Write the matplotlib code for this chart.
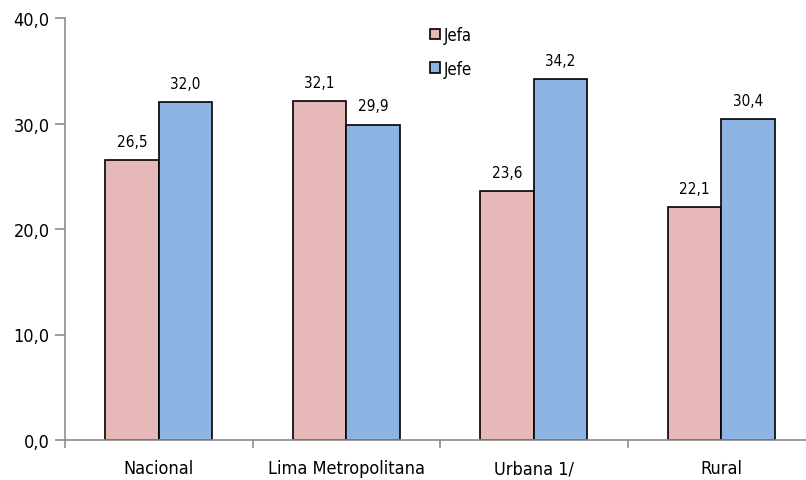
import matplotlib
matplotlib.use("Agg")
import matplotlib.pyplot as plt
import numpy as np
from matplotlib import font_manager

categories = ["Nacional", "Lima Metropolitana", "Urbana 1/", "Rural"]
jefa = [26.5, 32.1, 23.6, 22.1]
jefe = [32.0, 29.9, 34.2, 30.4]
yticks = [0, 10, 20, 30, 40]

# the original uses Arial Narrow, so take a narrow face when one is installed
narrow = [f for f in font_manager.fontManager.ttflist
          if "narrow" in f.name.lower() or "condensed" in f.name.lower()
          or "condensed" in str(f.stretch).lower()]
if narrow:
    plt.rcParams["font.family"] = [narrow[0].name, "DejaVu Sans"]
    plt.rcParams["font.stretch"] = narrow[0].stretch
    scale = 1.0
else:
    plt.rcParams["font.family"] = ["Liberation Sans", "DejaVu Sans"]
    scale = 0.9


def fmt(v):
    return f"{v:.1f}".replace(".", ",")


fig = plt.figure(figsize=(8.06, 4.81), dpi=100)
ax = fig.add_axes([65 / 806, 40 / 481, 750 / 806, 422 / 481])

x = np.arange(len(categories))
w = 0.285
b1 = ax.bar(x - w / 2, jefa, w, color="#E6B9B8", edgecolor="black", linewidth=1.2, label="Jefa")
b2 = ax.bar(x + w / 2, jefe, w, color="#8EB4E3", edgecolor="black", linewidth=1.2, label="Jefe")

for bars, vals in ((b1, jefa), (b2, jefe)):
    for bar, v in zip(bars, vals):
        ax.annotate(fmt(v), (bar.get_x() + bar.get_width() / 2, v), xytext=(0, 8),
                    textcoords="offset points", ha="center", va="bottom", fontsize=11 * scale)

ax.set_xlim(-0.5, len(categories) - 0.5)
ax.set_ylim(0, 40)
ax.set_yticks(yticks)
ax.set_yticklabels([fmt(v) for v in yticks], fontsize=13 * scale)
ax.set_xticks(np.arange(-0.5, len(categories), 1.0))
ax.set_xticklabels([])
ax.set_xticks(x, minor=True)
ax.set_xticklabels(categories, minor=True, fontsize=13 * scale)
ax.tick_params(axis="x", which="minor", length=0, pad=14)
ax.tick_params(axis="x", which="major", length=6, color="#8c8c8c", width=1.2)
ax.tick_params(axis="y", length=7, color="#8c8c8c", width=1.2, pad=4)

for side in ("top", "right"):
    ax.spines[side].set_visible(False)
for side in ("left", "bottom"):
    ax.spines[side].set_color("#8c8c8c")
    ax.spines[side].set_linewidth(1.2)

ax.legend(loc="upper left", bbox_to_anchor=(0.467, 1.017), frameon=False, fontsize=12 * scale,
          handlelength=0.6, handleheight=0.6, handletextpad=0.2, labelspacing=0.95)

fig.savefig("out.png", dpi=100)
